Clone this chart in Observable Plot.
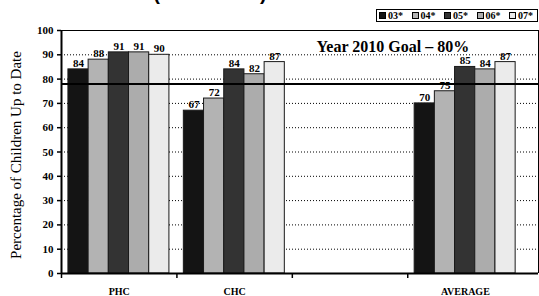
<!DOCTYPE html>
<html>
<head>
<meta charset="utf-8">
<script src="https://cdn.jsdelivr.net/npm/d3@7"></script>
<script src="https://cdn.jsdelivr.net/npm/@observablehq/plot@0.6"></script>
<style>
  html, body { margin: 0; padding: 0; background: #fff; }
  #wrap { position: relative; width: 539px; height: 296px; overflow: hidden; font-family: "Liberation Serif", "Times New Roman", serif; }
  #title { position: absolute; top: -17px; left: 0; width: 420px; text-align: center; font: bold 20px/20px "Liberation Sans", Arial, sans-serif; color: #000; white-space: nowrap; }
  #legend { position: absolute; left: 376px; top: 9px; width: 160px; height: 11px; border: 1px solid #000; background: #fff; font: bold 10px/11px "Liberation Serif", "Times New Roman", serif; }
  #legend span.item { position: absolute; top: 0; display: inline-flex; align-items: center; gap: 2px; height: 11px; }
  #legend span.sw { display: inline-block; width: 5px; height: 5px; border: 1px solid #000; }
  #chart { position: absolute; left: 0; top: 0; }
  #chart svg text { font-family: "Liberation Serif", "Times New Roman", serif; }
</style>
</head>
<body>
<div id="wrap">
  <div id="title">(2003–2007)</div>
  <div id="chart"></div>
  <div id="legend"></div>
</div>
<script>
// ---- data ----
const categories = ["PHC", "CHC", "", "AVERAGE"];
const years = ["03*", "04*", "05*", "06*", "07*"];
const colors = ["#141414", "#b3b3b3", "#333333", "#acacac", "#ebebeb"];
const phc = [84, 88, 91, 91, 90];
const chc = [67, 72, 84, 82, 87];
const blank = [null, null, null, null, null];
const average = [70, 75, 85, 84, 87];
const goalValue = 78;
const goalLabel = "Year 2010 Goal – 80%";
const yTicks = [0, 10, 20, 30, 40, 50, 60, 70, 80, 90, 100];
const gridTicks = [10, 20, 30, 40, 50, 60, 70, 80, 90];
const yTitle = "Percentage of Children Up to Date";

const seriesByCat = [phc, chc, blank, average];
const barW = 0.175, pad = 0.06;
const rows = [];
seriesByCat.forEach((vals, ci) => vals.forEach((v, si) => {
  if (v != null) rows.push({cat: categories[ci], ci, si, year: years[si], value: v,
    x1: ci + pad + si * barW, x2: ci + pad + (si + 1) * barW});
}));
const xMax = 4.133;
const serif = "Liberation Serif, Times New Roman, serif";

const chart = Plot.plot({
  width: 539, height: 296,
  marginLeft: 61, marginRight: 1, marginTop: 30, marginBottom: 23,
  style: {fontFamily: serif, background: "transparent", overflow: "visible"},
  x: {type: "linear", domain: [0, xMax], axis: null},
  y: {domain: [0, 100], axis: null},
  color: {domain: years, range: colors},
  marks: [
    Plot.ruleY(gridTicks, {stroke: "#000", strokeWidth: 1, strokeDasharray: "1,2"}),
    Plot.rectY(rows, {x1: "x1", x2: "x2", y: "value", fill: "year", stroke: "#1a1a1a", strokeWidth: 1}),
    Plot.ruleY([goalValue], {stroke: "#000", strokeWidth: 2}),
    Plot.text(rows, {x: d => (d.x1 + d.x2) / 2, y: "value", text: d => String(d.value), dy: -6,
      fontSize: 11, fontWeight: "bold", fill: "#000", fontFamily: serif}),
    Plot.text([goalLabel], {x: 2.21, y: 93.4, text: d => d, textAnchor: "start", fontSize: 16, fontWeight: "bold", fill: "#000", fontFamily: serif}),
    Plot.ruleY([100], {stroke: "#000", strokeWidth: 1}),
    Plot.ruleX([xMax], {y1: 0, y2: 100, stroke: "#000", strokeWidth: 1}),
    Plot.ruleY([0], {stroke: "#000", strokeWidth: 2}),
    Plot.ruleX([0], {y1: 0, y2: 100, stroke: "#000", strokeWidth: 2}),
    Plot.axisY({ticks: yTicks, tickSize: 4, tickPadding: 4, fontSize: 11, fontWeight: "bold", label: null, stroke: "#000", strokeWidth: 1.5, fontFamily: serif}),
    Plot.axisX({ticks: [0, 1, 2, 3], tickSize: 5, tickFormat: () => "", label: null, stroke: "#000", strokeWidth: 1.5}),
    Plot.axisX({ticks: [0.5, 1.5, 2.5, 3.5], tickSize: 0, tickPadding: 14, tickFormat: d => categories[Math.floor(d)], fontSize: 10, fontWeight: "bold", label: null, fontFamily: serif}),
    Plot.text([yTitle], {frameAnchor: "left", textAnchor: "middle", dx: -45, dy: 3, rotate: -90, text: d => d, fontSize: 15, fill: "#000", fontFamily: serif})
  ]
});
document.getElementById("chart").appendChild(chart);

const leg = document.getElementById("legend");
years.forEach((y, i) => {
  const it = document.createElement("span");
  it.className = "item";
  it.style.left = (2 + i * 32.5) + "px";
  const sw = document.createElement("span");
  sw.className = "sw";
  sw.style.background = colors[i];
  it.appendChild(sw);
  it.appendChild(document.createTextNode(y));
  leg.appendChild(it);
});
</script>
</body>
</html>
